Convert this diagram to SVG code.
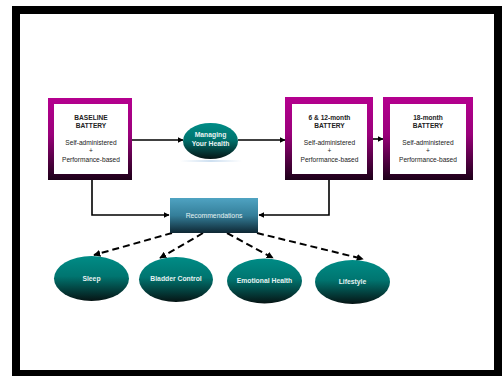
<svg xmlns="http://www.w3.org/2000/svg" width="502" height="376" viewBox="0 0 502 376">
<defs>
<linearGradient id="gMag" x1="0" y1="0" x2="0" y2="1">
<stop offset="0" stop-color="#b5008f"/>
<stop offset="0.45" stop-color="#9a007a"/>
<stop offset="1" stop-color="#1c0018"/>
</linearGradient>
<linearGradient id="gTeal" x1="0" y1="0" x2="0" y2="1">
<stop offset="0" stop-color="#008c86"/>
<stop offset="0.45" stop-color="#007570"/>
<stop offset="1" stop-color="#061414"/>
</linearGradient>
<linearGradient id="gBlue" x1="0" y1="0" x2="0" y2="1">
<stop offset="0" stop-color="#4fa3c2"/>
<stop offset="0.5" stop-color="#347e99"/>
<stop offset="1" stop-color="#0e2733"/>
</linearGradient>
<linearGradient id="gRefl" x1="0" y1="0" x2="1" y2="0">
<stop offset="0" stop-color="#c8dcef" stop-opacity="0"/>
<stop offset="0.5" stop-color="#c8dcef" stop-opacity="0.9"/>
<stop offset="1" stop-color="#c8dcef" stop-opacity="0"/>
</linearGradient>
<marker id="ah" viewBox="0 0 10 10" refX="9" refY="5" markerWidth="6" markerHeight="6" orient="auto" markerUnits="userSpaceOnUse">
<path d="M0,0 L10,5 L0,10 z" fill="#000"/>
</marker>
<marker id="ahd" viewBox="0 0 10 10" refX="9" refY="5" markerWidth="7" markerHeight="7" orient="auto" markerUnits="userSpaceOnUse">
<path d="M0,0 L10,5 L0,10 z" fill="#000"/>
</marker>
</defs>
<style>
.box{fill:url(#gMag)}
.inner{fill:#fff}
.t{font-family:"Liberation Sans",Arial,sans-serif;font-size:6.6px;fill:#222;text-anchor:middle}
.b{font-weight:bold}
.w{font-family:"Liberation Sans",Arial,sans-serif;font-size:6.8px;font-weight:bold;fill:#e6f2f2;text-anchor:middle}
.ell{fill:url(#gTeal)}
.ln{fill:none;stroke:#000;stroke-width:1.6}
.dl{fill:none;stroke:#000;stroke-width:2;stroke-dasharray:7 4}
</style>
<rect x="0" y="0" width="502" height="376" fill="#fff"/>
<rect x="12" y="6" width="490" height="370" fill="#000"/>
<rect x="20" y="14" width="474" height="356" fill="#fff"/>

<g id="connectors">
<line class="ln" x1="132" y1="140" x2="183" y2="140" marker-end="url(#ah)"/>
<line class="ln" x1="238" y1="140" x2="285" y2="140" marker-end="url(#ah)"/>
<line class="ln" x1="373" y1="139" x2="383" y2="139" marker-end="url(#ah)"/>
<polyline class="ln" points="92,180 92,215 169,215" marker-end="url(#ah)"/>
<polyline class="ln" points="329,180 329,215 259,215" marker-end="url(#ah)"/>
<line class="dl" x1="172" y1="233" x2="94" y2="255" marker-end="url(#ahd)"/>
<line class="dl" x1="203" y1="233" x2="160" y2="258" marker-end="url(#ahd)"/>
<line class="dl" x1="227" y1="233" x2="273" y2="258" marker-end="url(#ahd)"/>
<line class="dl" x1="257" y1="233" x2="363" y2="259" marker-end="url(#ahd)"/>
</g>

<g id="baseline">
<rect class="box" x="48" y="98" width="84" height="82"/>
<rect class="inner" x="54" y="104" width="74" height="70"/>
<text class="t b" x="91" y="120">BASELINE</text>
<text class="t b" x="91" y="128">BATTERY</text>
<text class="t" x="91" y="145">Self-administered</text>
<text class="t" x="91" y="153">+</text>
<text class="t" x="91" y="162">Performance-based</text>
</g>

<g id="managing">
<rect x="180" y="160" width="62" height="2" fill="url(#gRefl)"/>
<ellipse class="ell" cx="210.5" cy="141" rx="27.5" ry="18"/>
<text class="w" x="210.5" y="137">Managing</text>
<text class="w" x="210.5" y="145.5">Your Health</text>
</g>

<g id="month12">
<rect class="box" x="285" y="97" width="88" height="83"/>
<rect class="inner" x="292" y="104" width="75" height="70"/>
<text class="t b" x="329.5" y="120">6 &amp; 12-month</text>
<text class="t b" x="329.5" y="128">BATTERY</text>
<text class="t" x="329.5" y="145">Self-administered</text>
<text class="t" x="329.5" y="153">+</text>
<text class="t" x="329.5" y="162">Performance-based</text>
</g>

<g id="month18">
<rect class="box" x="383" y="97" width="90" height="83"/>
<rect class="inner" x="390" y="104" width="76" height="70"/>
<text class="t b" x="428" y="120">18-month</text>
<text class="t b" x="428" y="128">BATTERY</text>
<text class="t" x="428" y="145">Self-administered</text>
<text class="t" x="428" y="153">+</text>
<text class="t" x="428" y="162">Performance-based</text>
</g>

<g id="recommendations">
<rect x="170" y="198" width="88" height="35" fill="url(#gBlue)"/>
<text class="w" x="214" y="218" style="font-weight:normal">Recommendations</text>
</g>

<g id="sleep">
<ellipse class="ell" cx="91.5" cy="278.5" rx="37.5" ry="22.5"/>
<text class="w" x="91.5" y="281">Sleep</text>
</g>
<g id="bladder">
<ellipse class="ell" cx="176" cy="279.5" rx="37" ry="22.5"/>
<text class="w" x="176" y="281">Bladder Control</text>
</g>
<g id="emotional">
<ellipse class="ell" cx="264.5" cy="281" rx="37.5" ry="22.5"/>
<text class="w" x="264.5" y="283">Emotional Health</text>
</g>
<g id="lifestyle">
<ellipse class="ell" cx="352.5" cy="282" rx="37.5" ry="22"/>
<text class="w" x="352.5" y="284">Lifestyle</text>
</g>
</svg>
